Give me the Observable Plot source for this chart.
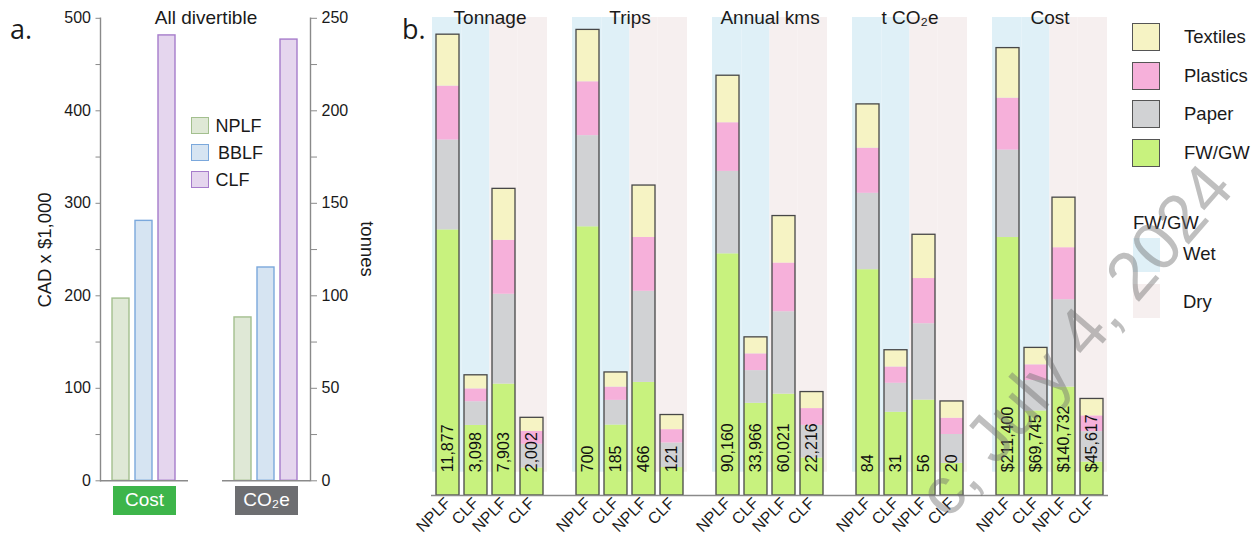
<!DOCTYPE html>
<html><head><meta charset="utf-8">
<script src="https://cdn.jsdelivr.net/npm/d3@7"></script>
<script src="https://cdn.jsdelivr.net/npm/@observablehq/plot@0.6"></script>
<style>
html,body{margin:0;padding:0;background:#fff;}
#wrap{position:relative;width:1260px;height:536px;overflow:hidden;font-family:"Liberation Sans",Arial,sans-serif;color:#1a1a1a;}
.abs{position:absolute;white-space:nowrap;line-height:1;}
.plot{position:absolute;top:0;}
</style></head><body><div id="wrap"></div>
<script>
// ---------- Panel a data ----------
const landfills = ["NPLF", "BBLF", "CLF"];
const landfillFill = ["#dfe8d6", "#d6e4f2", "#e5d6ee"];
const landfillStroke = ["#a3bf8e", "#7ba8dc", "#a67ccb"];
const divertibleCostK = [197, 281, 481.5];     // CAD x $1,000
const divertibleCO2eT = [88.3, 115.3, 238.5];  // tonnes
const costAxisMax = 500;
const tonneAxisMax = 250;
const aGroups = ["Cost", "CO₂e"];
const aGroupColors = ["#3db54a", "#6d6e71"];

// ---------- Panel b data ----------
const metrics = ["Tonnage", "Trips", "Annual kms", "t CO₂e", "Cost"];
const metricAxisMax = [12000, 700, 100000, 100, 220000];
// bar order inside each metric: Wet NPLF, Wet CLF, Dry NPLF, Dry CLF
const fwTypes = ["Wet", "Wet", "Dry", "Dry"];
const sites = ["NPLF", "CLF", "NPLF", "CLF"];
const materials = ["FW/GW", "Paper", "Plastics", "Textiles"];
const materialColors = ["#c8f27e", "#d1d2d4", "#f6b0da", "#f6f3c4"];
const fwColors = {Wet: "#dff0f7", Dry: "#f6efef"};
const totalLabels = [
  ["11,877", "3,098", "7,903", "2,002"],
  ["700", "185", "466", "121"],
  ["90,160", "33,966", "60,021", "22,216"],
  ["84", "31", "56", "20"],
  ["$211,400", "$69,745", "$140,732", "$45,617"]
];
const fwgwValues = [
  [6846, 1806, 2872, 710],
  [404, 106, 170, 42],
  [51910, 19816, 21771, 8066],
  [48.5, 17.9, 20.5, 6.9],
  [121900, 39955, 51232, 15827]
];
const paperValues = [
  [2315, 610, 2315, 610],
  [137, 37, 137, 37],
  [17700, 7000, 17700, 7000],
  [16.4, 6.2, 16.4, 6.2],
  [41300, 14350, 41300, 14350]
];
const plasticsValues = [
  [1390, 332, 1390, 332],
  [81, 20, 81, 20],
  [10450, 3600, 10450, 3600],
  [9.7, 3.5, 9.7, 3.5],
  [24550, 7440, 24550, 7440]
];
const textilesValues = [
  [1326, 350, 1326, 350],
  [78, 22, 78, 22],
  [10100, 3550, 10100, 3550],
  [9.4, 3.6, 9.4, 3.6],
  [23650, 8000, 23650, 8000]
];
const segmentTables = [fwgwValues, paperValues, plasticsValues, textilesValues];

const wrap = document.getElementById("wrap");
const FONT = "Liberation Sans, Arial, sans-serif";

function addText(txt, css) {
  const d = document.createElement("div");
  d.className = "abs";
  d.innerHTML = txt;
  Object.assign(d.style, css);
  wrap.appendChild(d);
  return d;
}

// ================= Panel a =================
const aRows = [];
landfills.forEach((s, i) => {
  aRows.push({group: aGroups[0], site: s, v: divertibleCostK[i] / costAxisMax});
  aRows.push({group: aGroups[1], site: s, v: divertibleCO2eT[i] / tonneAxisMax});
});
const aTicks = d3.range(0, 11).map(i => i / 10);

const plotA = Plot.plot({
  width: 400, height: 536,
  marginLeft: 100, marginRight: 90, marginTop: 17.8, marginBottom: 55.7,
  style: {fontFamily: FONT, fontSize: "16px", color: "#1a1a1a", background: "transparent", overflow: "visible"},
  fx: {domain: aGroups, paddingInner: 0.28, paddingOuter: 0, axis: null},
  x: {domain: landfills, paddingInner: 0.24, paddingOuter: 0.53, axis: null},
  y: {domain: [0, 1], axis: null},
  marks: [
    ...landfills.map((s, i) => Plot.barY(aRows.filter(d => d.site === s), {
      fx: "group", x: "site", y: "v", fill: landfillFill[i], stroke: landfillStroke[i], strokeWidth: 1.4
    })),
    Plot.ruleY([0], {stroke: "#8a8a8a", strokeWidth: 1.4}),
    Plot.frame({anchor: "left", facetAnchor: "left", stroke: "#8a8a8a", strokeWidth: 1.4}),
    Plot.frame({anchor: "right", facetAnchor: "right", stroke: "#8a8a8a", strokeWidth: 1.4}),
    Plot.axisY({anchor: "left", ticks: aTicks, tickSize: 4.5, tickPadding: 5, fontSize: 16,
      stroke: "#8a8a8a", fill: "#1a1a1a", label: null,
      tickFormat: d => { const v = Math.round(d * costAxisMax); return v % 100 === 0 ? String(v) : ""; }}),
    Plot.axisY({anchor: "right", ticks: aTicks, tickSize: 6, tickPadding: 5, fontSize: 16,
      stroke: "#8a8a8a", fill: "#1a1a1a", label: null,
      tickFormat: d => { const v = Math.round(d * tonneAxisMax); return v % 50 === 0 ? String(v) : ""; }})
  ]
});
plotA.classList.add("plot");
plotA.style.left = "0px";
wrap.appendChild(plotA);

addText("a.", {left: "10px", top: "15px", fontFamily: "Open Sans, sans-serif", fontSize: "27px"});
addText("All divertible", {left: "206px", top: "17px", transform: "translate(-50%,-50%)", fontSize: "19px"});
addText("CAD x $1,000", {left: "44.5px", top: "249.5px", transform: "translate(-50%,-50%) rotate(-90deg)", fontSize: "18.5px"});
addText("tonnes", {left: "367px", top: "248.5px", transform: "translate(-50%,-50%) rotate(90deg)", fontSize: "18.5px"});

// legend a
landfills.forEach((s, i) => {
  const top = 116.5 + i * 27;
  const sw = document.createElement("div");
  sw.className = "abs";
  Object.assign(sw.style, {left: "191px", top: top + "px", width: "16px", height: "15px",
    background: landfillFill[i], border: "1.5px solid " + landfillStroke[i]});
  wrap.appendChild(sw);
  addText(s, {left: (s === "BBLF" ? 218 : 215.5) + "px", top: (top + 9) + "px", transform: "translateY(-50%)", fontSize: "18px"});
});
// group boxes
[[113, aGroups[0]], [235, aGroups[1]]].forEach(([x, g], i) => {
  addText(g, {left: x + "px", top: "486px", width: "63px", height: "28.5px", background: aGroupColors[i],
    color: "#fff", fontSize: "19px", textAlign: "center", lineHeight: "28.5px"});
});

// ================= Panel b =================
const xDomain = [];
metrics.forEach((m, mi) => {
  sites.forEach((s, j) => xDomain.push(`${m}|${fwTypes[j]}|${s}`));
  if (mi < metrics.length - 1) xDomain.push(`${m}|gap|`);
});
const barKeys = xDomain.filter(k => !k.includes("|gap|"));

const bRows = [];
const totRows = [];
metrics.forEach((m, mi) => {
  sites.forEach((s, j) => {
    const key = `${m}|${fwTypes[j]}|${s}`;
    let tot = 0;
    materials.forEach((mat, k) => {
      const v = segmentTables[k][mi][j] / metricAxisMax[mi];
      tot += v;
      bRows.push({key, material: mat, v});
    });
    totRows.push({key, pos: j, fw: fwTypes[j], total: tot, label: totalLabels[mi][j]});
  });
});

const bWidth = 740, bLeft = 400;
const bMarginLeft = 31, bMarginRight = 32;
const padIn = 0.18, padOut = 0.1425;
const step = (bWidth - bMarginLeft - bMarginRight) / (xDomain.length - padIn + 2 * padOut);
const halfGap = step * padIn / 2;
const outer = step * padOut;
const baseY = 495, topY = 17, unitPx = 465.6;
const yTop = (baseY - topY) / unitPx;
const bandLow = 0.05;

const bgInsets = [[-outer, -halfGap], [-halfGap, -halfGap], [-halfGap, -halfGap], [-halfGap, -outer]];

const plotB = Plot.plot({
  width: bWidth, height: 536,
  marginLeft: bMarginLeft, marginRight: bMarginRight, marginTop: topY, marginBottom: 536 - baseY,
  style: {fontFamily: FONT, fontSize: "16px", color: "#1a1a1a", background: "transparent", overflow: "visible"},
  x: {domain: xDomain, paddingInner: padIn, paddingOuter: padOut, axis: null},
  y: {domain: [0, yTop], axis: null},
  color: {domain: materials, range: materialColors},
  marks: [
    ...bgInsets.map(([l, r], j) => Plot.barY(totRows.filter(d => d.pos === j), {
      x: "key", y1: bandLow, y2: yTop, fill: fwColors[fwTypes[j]], insetLeft: l, insetRight: r
    })),
    Plot.barY(bRows, {x: "key", y: "v", fill: "material"}),
    Plot.barY(totRows, {x: "key", y: "total", fill: "none", stroke: "#474747", strokeWidth: 1.3}),
    Plot.text(totRows, {x: "key", y: () => bandLow, text: "label", rotate: -90, textAnchor: "start",
      lineAnchor: "middle", fontSize: 16, fill: "#111"}),
    Plot.ruleY([0], {stroke: "#8a8a8a", strokeWidth: 1.4}),
    Plot.axisX({anchor: "bottom", ticks: barKeys, tickFormat: k => k.split("|")[2], tickRotate: -45,
      tickSize: 0, tickPadding: 5, fontSize: 16, fill: "#1a1a1a", label: null}),
    Plot.text(metrics.map(m => ({m, key: `${m}|Wet|CLF`})), {x: "key", frameAnchor: "top", text: "m",
      dx: step / 2, lineAnchor: "middle", fontSize: 19, fill: "#1a1a1a"})
  ]
});
plotB.classList.add("plot");
plotB.style.left = bLeft + "px";
wrap.appendChild(plotB);

addText("b.", {left: "402px", top: "15px", fontFamily: "Open Sans, sans-serif", fontSize: "27px"});

// legend b (materials, top to bottom reversed stack order)
const legendMats = materials.slice().reverse();
legendMats.forEach((mat, i) => {
  const top = 23.2 + i * 38.6;
  const sw = document.createElement("div");
  sw.className = "abs";
  Object.assign(sw.style, {left: "1132px", top: top + "px", width: "26px", height: "26px",
    background: materialColors[materials.indexOf(mat)], border: "1px solid #555"});
  wrap.appendChild(sw);
  addText(mat, {left: "1184px", top: (top + 14) + "px", transform: "translateY(-50%)", fontSize: "18.5px"});
});
addText("FW/GW", {left: "1133px", top: "222.5px", transform: "translateY(-50%)", fontSize: "18.5px"});
[["Wet", 237.5, 254], ["Dry", 283.5, 301.5]].forEach(([t, top, ty]) => {
  const sw = document.createElement("div");
  sw.className = "abs";
  Object.assign(sw.style, {left: "1133px", top: top + "px", width: "27px", height: "34.5px", background: fwColors[t]});
  wrap.appendChild(sw);
  addText(t, {left: "1183px", top: ty + "px", transform: "translateY(-50%)", fontSize: "18.5px"});
});

// watermark (visible part only)
const ns = "http://www.w3.org/2000/svg";
const wm = document.createElementNS(ns, "svg");
wm.setAttribute("width", 1260); wm.setAttribute("height", 536);
wm.style.position = "absolute"; wm.style.left = "0"; wm.style.top = "0"; wm.style.pointerEvents = "none";
const wt = document.createElementNS(ns, "text");
wt.setAttribute("x", 1236); wt.setAttribute("y", 190);
wt.setAttribute("text-anchor", "end");
wt.setAttribute("transform", "rotate(-49 1236 190)");
wt.setAttribute("font-family", FONT);
wt.setAttribute("font-size", 68);
wt.setAttribute("fill", "#707070");
wt.setAttribute("fill-opacity", "0.45");
wt.textContent = "c, July 4, 2024";
wm.appendChild(wt);
wrap.appendChild(wm);
</script></body></html>
